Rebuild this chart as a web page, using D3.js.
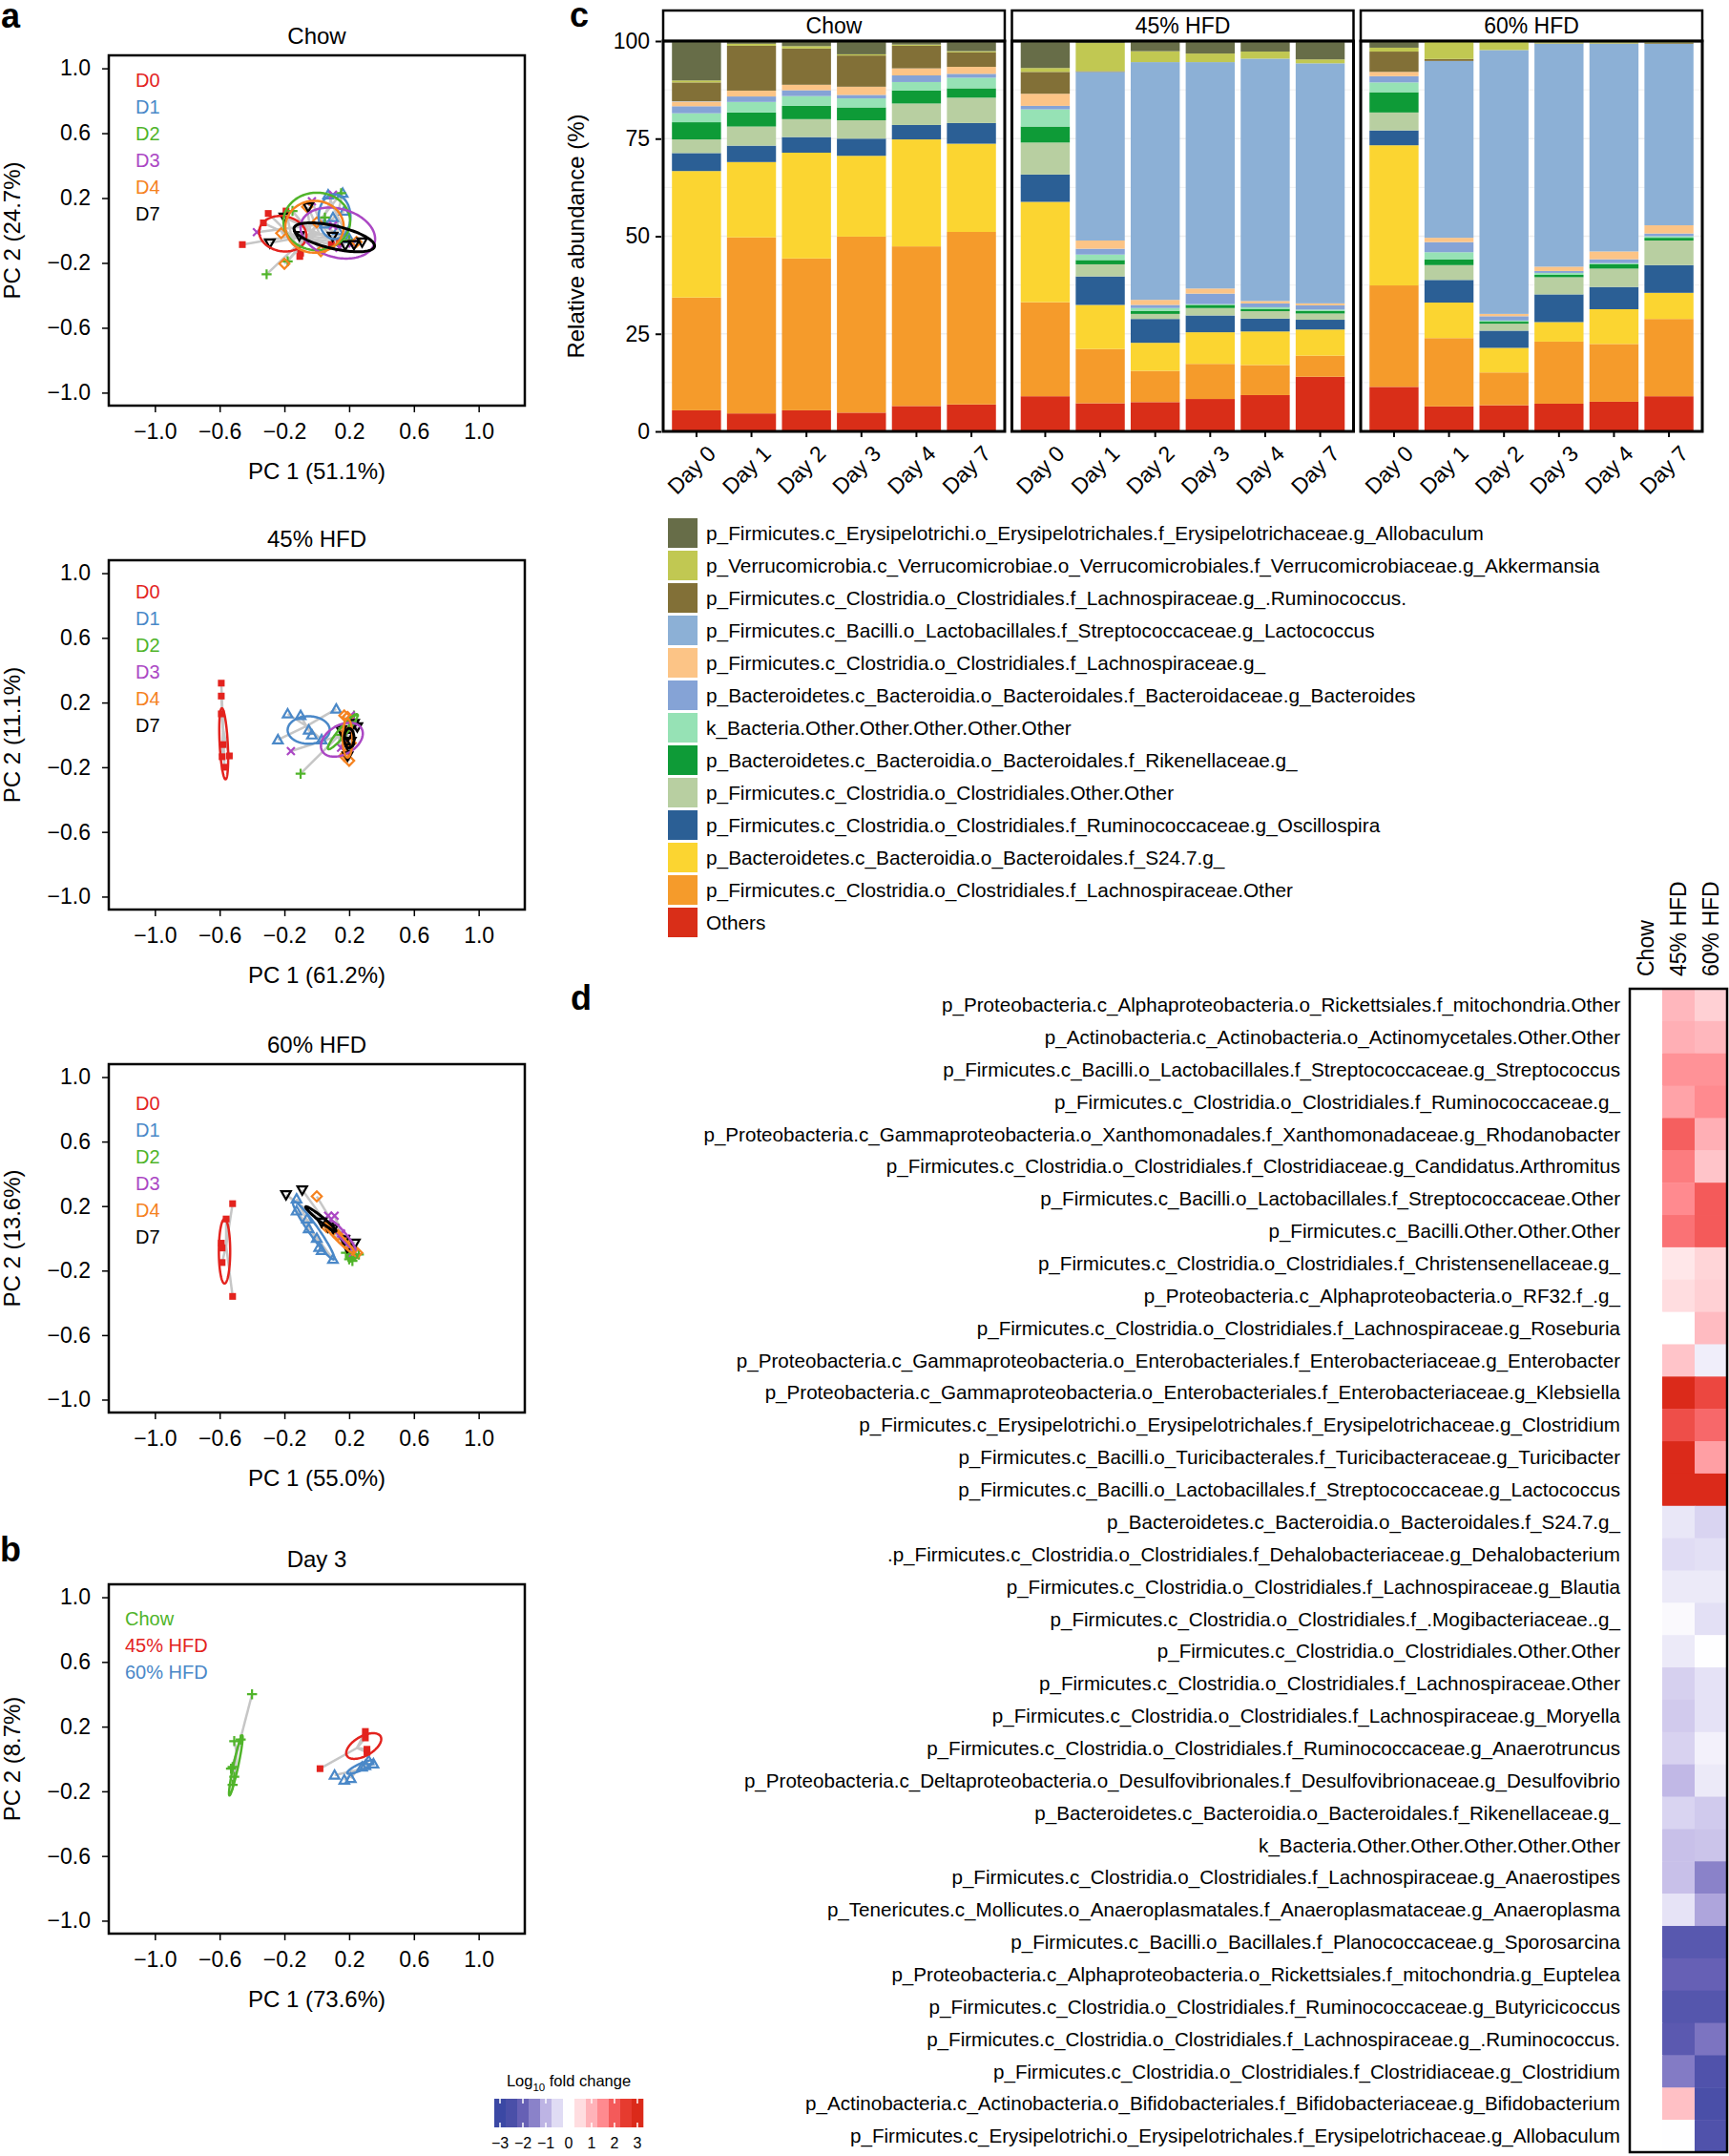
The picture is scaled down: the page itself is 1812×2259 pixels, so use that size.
<!DOCTYPE html>
<html>
<head>
<meta charset="utf-8">
<script src="https://cdn.jsdelivr.net/npm/d3@7"></script>
<style>
  body { margin: 0; background: #fff; }
  svg text { font-family: "Liberation Sans", Arial, Helvetica, sans-serif; }
</style>
</head>
<body>
<svg id="fig"></svg>
<script>
// ---------- data ----------
var dayGroups = ["D0", "D1", "D2", "D3", "D4", "D7"];
var dietGroups = ["Chow", "45% HFD", "60% HFD"];
var pcTicks = [-1.0, -0.6, -0.2, 0.2, 0.6, 1.0];

// PCoA points: [group, PC1, PC2]
var chowPoints = [
  ["D0", -0.46, -0.087], ["D0", -0.30, 0.105], ["D0", -0.33, 0.047], ["D0", -0.19, 0.12],
  ["D0", -0.10, -0.14], ["D0", -0.105, -0.16], ["D0", 0.09, -0.087], ["D0", 0.14, -0.075],
  ["D1", 0.07, 0.22], ["D1", 0.16, 0.23], ["D1", 0.13, 0.0], ["D1", 0.10, 0.08], ["D1", 0.20, -0.05], ["D1", 0.05, 0.04], ["D1", 0.17, 0.12],
  ["D2", -0.31, -0.27], ["D2", -0.15, 0.12], ["D2", 0.15, 0.23], ["D2", -0.18, -0.19], ["D2", 0.20, -0.06], ["D2", 0.05, 0.08],
  ["D3", -0.37, -0.01], ["D3", -0.03, 0.18], ["D3", 0.10, 0.22], ["D3", 0.14, -0.107], ["D3", 0.22, -0.08], ["D3", 0.10, 0.03],
  ["D4", -0.22, -0.016], ["D4", -0.20, -0.205], ["D4", -0.06, 0.145], ["D4", 0.025, -0.127], ["D4", 0.245, -0.071], ["D4", 0.0, 0.05],
  ["D7", -0.20, 0.082], ["D7", -0.29, -0.077], ["D7", -0.053, 0.145], ["D7", -0.108, -0.032], ["D7", 0.176, -0.091], ["D7", 0.23, -0.087], ["D7", 0.28, -0.071], ["D7", 0.098, -0.036]
];
var hfd45Points = [
  ["D0", -0.59, 0.32], ["D0", -0.59, 0.24], ["D0", -0.59, 0.13], ["D0", -0.585, -0.135], ["D0", -0.54, -0.13], ["D0", -0.57, -0.20], ["D0", -0.58, -0.06],
  ["D1", -0.24, -0.03], ["D1", -0.18, 0.13], ["D1", -0.10, 0.12], ["D1", -0.05, 0.03], ["D1", -0.03, 0.0], ["D1", 0.03, -0.03], ["D1", 0.12, 0.16],
  ["D2", -0.10, -0.24], ["D2", 0.23, 0.12], ["D2", 0.17, 0.05], ["D2", 0.20, 0.08], ["D2", 0.15, 0.0], ["D2", 0.18, -0.02],
  ["D3", -0.16, -0.10], ["D3", 0.21, 0.12], ["D3", 0.17, -0.05], ["D3", 0.20, 0.02], ["D3", 0.23, 0.05], ["D3", 0.15, -0.08],
  ["D4", 0.17, 0.12], ["D4", 0.19, 0.11], ["D4", 0.20, -0.16], ["D4", 0.18, -0.12], ["D4", 0.17, 0.03], ["D4", 0.21, -0.05], ["D4", 0.17, -0.13],
  ["D7", 0.15, 0.03], ["D7", 0.23, 0.07], ["D7", 0.25, 0.05], ["D7", 0.19, -0.01], ["D7", 0.20, -0.08], ["D7", 0.19, -0.13], ["D7", 0.21, -0.04]
];
var hfd60Points = [
  ["D0", -0.52, 0.215], ["D0", -0.56, 0.12], ["D0", -0.59, -0.03], ["D0", -0.585, -0.15], ["D0", -0.52, -0.36], ["D0", -0.585, -0.06],
  ["D1", -0.125, 0.245], ["D1", -0.125, 0.17], ["D1", -0.06, 0.12], ["D1", -0.05, 0.06], ["D1", 0.0, 0.0], ["D1", 0.015, -0.055], ["D1", 0.10, -0.13], ["D1", 0.03, -0.075],
  ["D2", 0.21, -0.12], ["D2", 0.22, -0.14], ["D2", 0.18, -0.09], ["D2", 0.26, -0.10], ["D2", 0.23, -0.11], ["D2", 0.20, -0.13],
  ["D3", 0.07, 0.14], ["D3", 0.11, 0.14], ["D3", 0.20, -0.05], ["D3", 0.22, -0.09], ["D3", 0.15, 0.03], ["D3", 0.18, 0.0],
  ["D4", 0.0, 0.26], ["D4", 0.06, 0.07], ["D4", 0.13, 0.02], ["D4", 0.25, -0.09], ["D4", 0.18, -0.03], ["D4", 0.22, -0.07],
  ["D7", -0.19, 0.27], ["D7", -0.09, 0.30], ["D7", 0.03, 0.10], ["D7", 0.07, 0.07], ["D7", 0.17, -0.01], ["D7", 0.19, -0.06], ["D7", 0.235, -0.03], ["D7", 0.10, 0.06]
];
var day3Points = [
  ["Chow", -0.40, 0.40], ["Chow", -0.51, 0.11], ["Chow", -0.47, 0.12], ["Chow", -0.52, -0.05], ["Chow", -0.51, -0.11], ["Chow", -0.52, -0.16], ["Chow", -0.53, -0.06],
  ["45% HFD", 0.02, -0.06], ["45% HFD", 0.30, 0.17], ["45% HFD", 0.30, 0.13], ["45% HFD", 0.31, 0.04], ["45% HFD", 0.31, 0.06],
  ["60% HFD", 0.11, -0.10], ["60% HFD", 0.17, -0.13], ["60% HFD", 0.21, -0.12], ["60% HFD", 0.28, -0.05], ["60% HFD", 0.32, -0.01], ["60% HFD", 0.35, -0.03], ["60% HFD", 0.30, -0.04]
];

// group ellipses: [group, centre PC1, centre PC2, semi-axis a, semi-axis b, angle deg]
var chowEllipses = [
  ["D0", -0.21, -0.02, 0.147, 0.108, -10], ["D1", 0.11, 0.085, 0.098, 0.138, 0],
  ["D2", 0.0, 0.056, 0.206, 0.177, 0], ["D3", 0.13, -0.016, 0.235, 0.15, -15],
  ["D4", -0.014, 0.023, 0.18, 0.16, 0], ["D7", 0.108, -0.042, 0.255, 0.07, -13]
];
var hfd45Ellipses = [
  ["D0", -0.575, -0.055, 0.22, 0.025, 93], ["D1", -0.05, 0.03, 0.13, 0.085, 0],
  ["D2", 0.16, 0.02, 0.14, 0.025, 50], ["D3", 0.155, -0.03, 0.14, 0.09, 30],
  ["D4", 0.19, -0.02, 0.12, 0.03, 90], ["D7", 0.20, -0.02, 0.06, 0.03, 90]
];
var hfd60Ellipses = [
  ["D0", -0.57, -0.08, 0.2, 0.035, 90], ["D1", -0.02, 0.05, 0.22, 0.03, -55],
  ["D2", 0.22, -0.11, 0.03, 0.02, 0], ["D3", 0.16, 0.02, 0.12, 0.02, -50],
  ["D4", 0.14, 0.0, 0.13, 0.02, -45], ["D7", 0.025, 0.12, 0.12, 0.015, -39]
];
var day3Ellipses = [
  ["Chow", -0.50, -0.04, 0.19, 0.015, 78], ["45% HFD", 0.29, 0.08, 0.12, 0.06, 30],
  ["60% HFD", 0.27, -0.05, 0.09, 0.02, 25]
];

// stacked bars (relative abundance %), 18 bars: Chow D0..D7, 45% D0..D7, 60% D0..D7
var dayLabels = ["Day 0", "Day 1", "Day 2", "Day 3", "Day 4", "Day 7"];
var taxa = [
  "Others",
  "p_Firmicutes.c_Clostridia.o_Clostridiales.f_Lachnospiraceae.Other",
  "p_Bacteroidetes.c_Bacteroidia.o_Bacteroidales.f_S24.7.g_",
  "p_Firmicutes.c_Clostridia.o_Clostridiales.f_Ruminococcaceae.g_Oscillospira",
  "p_Firmicutes.c_Clostridia.o_Clostridiales.Other.Other",
  "p_Bacteroidetes.c_Bacteroidia.o_Bacteroidales.f_Rikenellaceae.g_",
  "k_Bacteria.Other.Other.Other.Other.Other",
  "p_Bacteroidetes.c_Bacteroidia.o_Bacteroidales.f_Bacteroidaceae.g_Bacteroides",
  "p_Firmicutes.c_Clostridia.o_Clostridiales.f_Lachnospiraceae.g_",
  "p_Firmicutes.c_Bacilli.o_Lactobacillales.f_Streptococcaceae.g_Lactococcus",
  "p_Firmicutes.c_Clostridia.o_Clostridiales.f_Lachnospiraceae.g_.Ruminococcus.",
  "p_Verrucomicrobia.c_Verrucomicrobiae.o_Verrucomicrobiales.f_Verrucomicrobiaceae.g_Akkermansia",
  "p_Firmicutes.c_Erysipelotrichi.o_Erysipelotrichales.f_Erysipelotrichaceae.g_Allobaculum"
];
var taxaColors = ["#D92E18", "#F59B2B", "#FBD531", "#2B5F95", "#B8CFA1", "#0E9B37", "#96E2B5",
                  "#85A3D6", "#FCC486", "#8CB0D6", "#827037", "#C1C852", "#676D48"];
var others       = [5.4, 4.6, 5.4, 4.8, 6.5, 6.9,  9.0, 7.2, 7.5, 8.3, 9.3, 14.0,  11.4, 6.4, 6.7, 7.1, 7.6, 9.0];
var lachnoOther  = [28.9, 45.1, 38.9, 45.1, 40.9, 44.2,  24.1, 13.9, 8.0, 9.0, 7.7, 5.4,  26.0, 17.5, 8.4, 15.9, 14.8, 19.8];
var s247         = [32.4, 19.3, 27.1, 20.7, 27.4, 22.6,  25.7, 11.3, 7.2, 8.1, 8.6, 6.7,  35.9, 9.1, 6.3, 5.0, 8.9, 6.7];
var oscillospira = [4.6, 4.2, 4.0, 4.4, 3.7, 5.3,  7.0, 7.3, 6.1, 4.3, 3.3, 2.5,  3.8, 5.8, 4.4, 7.1, 5.7, 7.1];
var clostOther   = [3.5, 4.9, 4.6, 4.7, 5.5, 6.5,  8.2, 3.1, 1.3, 1.9, 1.9, 1.6,  4.6, 3.8, 1.8, 4.4, 4.7, 6.3];
var rikenella    = [4.4, 3.6, 3.4, 3.3, 3.3, 2.4,  4.1, 1.1, 0.8, 0.8, 0.6, 0.7,  5.2, 1.5, 0.5, 0.6, 1.1, 0.7];
var kBacteria    = [2.3, 2.7, 2.5, 2.3, 2.2, 2.7,  4.4, 1.4, 0.7, 0.2, 0.4, 0.3,  2.5, 1.8, 0.3, 0.5, 0.3, 0.4];
var bacteroides  = [1.8, 1.4, 1.5, 0.9, 1.7, 1.0,  0.9, 1.5, 0.8, 2.7, 1.0, 1.1,  1.6, 2.6, 1.1, 0.5, 1.0, 0.7];
var lachnoG      = [1.2, 1.5, 1.4, 2.1, 1.8, 1.8,  3.1, 2.1, 1.3, 1.3, 0.6, 0.5,  1.1, 1.1, 0.6, 1.1, 2.0, 2.1];
var lactococcus  = [0.1, 0.0, 0.0, 0.0, 0.0, 0.0,  0.0, 43.2, 60.9, 58.0, 62.1, 61.5,  0.0, 45.3, 67.6, 57.1, 53.2, 46.5];
var ruminococcus = [4.8, 11.5, 9.3, 8.0, 5.8, 3.7,  5.6, 0.2, 0.0, 0.0, 0.0, 0.0,  5.2, 0.5, 0.0, 0.1, 0.1, 0.2];
var akkermansia  = [0.5, 0.5, 0.6, 0.3, 0.3, 0.3,  1.0, 7.2, 2.8, 2.2, 1.8, 1.0,  1.0, 4.4, 2.1, 0.3, 0.3, 0.2];
var allobaculum  = [10.1, 0.7, 1.3, 3.4, 0.9, 2.6,  6.9, 0.5, 2.6, 3.2, 2.7, 4.7,  1.7, 0.2, 0.2, 0.3, 0.3, 0.3];
var taxaSeries = [others, lachnoOther, s247, oscillospira, clostOther, rikenella, kBacteria,
                  bacteroides, lachnoG, lactococcus, ruminococcus, akkermansia, allobaculum];

// heatmap: log10 fold change vs chow
var heatTaxa = [
  "p_Proteobacteria.c_Alphaproteobacteria.o_Rickettsiales.f_mitochondria.Other",
  "p_Actinobacteria.c_Actinobacteria.o_Actinomycetales.Other.Other",
  "p_Firmicutes.c_Bacilli.o_Lactobacillales.f_Streptococcaceae.g_Streptococcus",
  "p_Firmicutes.c_Clostridia.o_Clostridiales.f_Ruminococcaceae.g_",
  "p_Proteobacteria.c_Gammaproteobacteria.o_Xanthomonadales.f_Xanthomonadaceae.g_Rhodanobacter",
  "p_Firmicutes.c_Clostridia.o_Clostridiales.f_Clostridiaceae.g_Candidatus.Arthromitus",
  "p_Firmicutes.c_Bacilli.o_Lactobacillales.f_Streptococcaceae.Other",
  "p_Firmicutes.c_Bacilli.Other.Other.Other",
  "p_Firmicutes.c_Clostridia.o_Clostridiales.f_Christensenellaceae.g_",
  "p_Proteobacteria.c_Alphaproteobacteria.o_RF32.f_.g_",
  "p_Firmicutes.c_Clostridia.o_Clostridiales.f_Lachnospiraceae.g_Roseburia",
  "p_Proteobacteria.c_Gammaproteobacteria.o_Enterobacteriales.f_Enterobacteriaceae.g_Enterobacter",
  "p_Proteobacteria.c_Gammaproteobacteria.o_Enterobacteriales.f_Enterobacteriaceae.g_Klebsiella",
  "p_Firmicutes.c_Erysipelotrichi.o_Erysipelotrichales.f_Erysipelotrichaceae.g_Clostridium",
  "p_Firmicutes.c_Bacilli.o_Turicibacterales.f_Turicibacteraceae.g_Turicibacter",
  "p_Firmicutes.c_Bacilli.o_Lactobacillales.f_Streptococcaceae.g_Lactococcus",
  "p_Bacteroidetes.c_Bacteroidia.o_Bacteroidales.f_S24.7.g_",
  ".p_Firmicutes.c_Clostridia.o_Clostridiales.f_Dehalobacteriaceae.g_Dehalobacterium",
  "p_Firmicutes.c_Clostridia.o_Clostridiales.f_Lachnospiraceae.g_Blautia",
  "p_Firmicutes.c_Clostridia.o_Clostridiales.f_.Mogibacteriaceae..g_",
  "p_Firmicutes.c_Clostridia.o_Clostridiales.Other.Other",
  "p_Firmicutes.c_Clostridia.o_Clostridiales.f_Lachnospiraceae.Other",
  "p_Firmicutes.c_Clostridia.o_Clostridiales.f_Lachnospiraceae.g_Moryella",
  "p_Firmicutes.c_Clostridia.o_Clostridiales.f_Ruminococcaceae.g_Anaerotruncus",
  "p_Proteobacteria.c_Deltaproteobacteria.o_Desulfovibrionales.f_Desulfovibrionaceae.g_Desulfovibrio",
  "p_Bacteroidetes.c_Bacteroidia.o_Bacteroidales.f_Rikenellaceae.g_",
  "k_Bacteria.Other.Other.Other.Other.Other",
  "p_Firmicutes.c_Clostridia.o_Clostridiales.f_Lachnospiraceae.g_Anaerostipes",
  "p_Tenericutes.c_Mollicutes.o_Anaeroplasmatales.f_Anaeroplasmataceae.g_Anaeroplasma",
  "p_Firmicutes.c_Bacilli.o_Bacillales.f_Planococcaceae.g_Sporosarcina",
  "p_Proteobacteria.c_Alphaproteobacteria.o_Rickettsiales.f_mitochondria.g_Euptelea",
  "p_Firmicutes.c_Clostridia.o_Clostridiales.f_Ruminococcaceae.g_Butyricicoccus",
  "p_Firmicutes.c_Clostridia.o_Clostridiales.f_Lachnospiraceae.g_.Ruminococcus.",
  "p_Firmicutes.c_Clostridia.o_Clostridiales.f_Clostridiaceae.g_Clostridium",
  "p_Actinobacteria.c_Actinobacteria.o_Bifidobacteriales.f_Bifidobacteriaceae.g_Bifidobacterium",
  "p_Firmicutes.c_Erysipelotrichi.o_Erysipelotrichales.f_Erysipelotrichaceae.g_Allobaculum"
];
var foldChow  = heatTaxa.map(function () { return 0; });
var fold45HFD = [0.95, 1.05, 1.4, 1.2, 1.95, 1.65, 1.5, 1.75, 0.35, 0.5, 0.0, 0.8, 3.0, 2.2, 3.0, 3.0,
                 -0.35, -0.5, -0.3, -0.08, -0.3, -0.65, -0.72, -0.62, -0.95, -0.6, -0.85, -0.85, -0.4,
                 -2.25, -2.0, -2.3, -2.2, -1.6, 0.85, -0.02];
var fold60HFD = [0.65, 0.95, 1.4, 1.5, 1.05, 0.8, 2.0, 2.0, 0.6, 0.65, 0.9, -0.25, 2.3, 1.85, 1.25, 3.0,
                 -0.6, -0.45, -0.3, -0.45, -0.02, -0.42, -0.42, -0.2, -0.3, -0.73, -0.8, -1.5, -1.15,
                 -2.25, -2.0, -2.3, -1.7, -2.4, -2.5, -2.4];
var foldTicks = [-3, -2, -1, 0, 1, 2, 3];

// ---------- setup ----------
var svg = d3.select("#fig").attr("width", 1812).attr("height", 2259);
var red = "#E3231E", blue = "#4A88C8", green = "#50B42A", purple = "#AB47C4", orange = "#F5821F", black = "#000";

// simple line symbols for the ordination plots
var symPlus = { draw: function (c, s) { var r = Math.sqrt(s) / 2; c.moveTo(-r, 0); c.lineTo(r, 0); c.moveTo(0, -r); c.lineTo(0, r); } };
var symX = { draw: function (c, s) { var r = Math.sqrt(s) / 2.6; c.moveTo(-r, -r); c.lineTo(r, r); c.moveTo(-r, r); c.lineTo(r, -r); } };
var symUp = { draw: function (c, s) { var r = Math.sqrt(s) / 2; c.moveTo(0, -r); c.lineTo(r, r * 0.75); c.lineTo(-r, r * 0.75); c.closePath(); } };
var symDown = { draw: function (c, s) { var r = Math.sqrt(s) / 2; c.moveTo(-r, -r * 0.75); c.lineTo(r, -r * 0.75); c.lineTo(0, r); c.closePath(); } };
var symDiamond = { draw: function (c, s) { var r = Math.sqrt(s) / 2; c.moveTo(0, -r); c.lineTo(r, 0); c.lineTo(0, r); c.lineTo(-r, 0); c.closePath(); } };

var dayStyle = {
  D0: { color: red, type: d3.symbolSquare, size: 50, fill: true },
  D1: { color: blue, type: symUp, size: 100, fill: false },
  D2: { color: green, type: symPlus, size: 110, fill: false },
  D3: { color: purple, type: symX, size: 110, fill: false },
  D4: { color: orange, type: symDiamond, size: 110, fill: false },
  D7: { color: black, type: symDown, size: 100, fill: false }
};
var dietStyle = {
  "Chow": { color: green, type: symPlus, size: 110, fill: false },
  "45% HFD": { color: red, type: d3.symbolSquare, size: 50, fill: true },
  "60% HFD": { color: blue, type: symUp, size: 100, fill: false }
};

function panelLetter(txt, x, y) {
  svg.append("text").attr("x", x).attr("y", y).attr("font-size", 36).attr("font-weight", "bold").text(txt);
}

// ---------- a / b : PCoA panels ----------
function pcaPanel(opt) {
  var x = d3.scaleLinear().domain([-1.285, 1.285]).range([114, 550]);
  var y = d3.scaleLinear().domain([-1.08, 1.08]).range([opt.bottom, opt.top]);
  var g = svg.append("g");
  var fmt = d3.format(".1f");

  g.append("text").attr("x", 332).attr("y", opt.titleY).attr("dy", "0.36em").attr("text-anchor", "middle")
    .attr("font-size", 24).text(opt.title);

  var xAxis = g.append("g").attr("transform", "translate(0," + opt.bottom + ")")
    .call(d3.axisBottom(x).tickValues(pcTicks).tickFormat(fmt).tickSize(7).tickPadding(12));
  var yAxis = g.append("g").attr("transform", "translate(114,0)")
    .call(d3.axisLeft(y).tickValues(pcTicks).tickFormat(fmt).tickSize(7).tickPadding(12));
  [xAxis, yAxis].forEach(function (a) {
    a.select(".domain").remove();
    a.attr("font-family", null).attr("font-size", 23);
    a.selectAll("line").attr("stroke-width", 1.5);
  });

  g.append("text").attr("x", 332).attr("y", opt.bottom + 77).attr("text-anchor", "middle")
    .attr("font-size", 24).text(opt.xlab);
  g.append("text").attr("transform", "translate(21," + ((opt.top + opt.bottom) / 2) + ") rotate(-90)")
    .attr("text-anchor", "middle").attr("font-size", 24).text(opt.ylab);

  // spider lines to group centroids
  var cent = d3.rollup(opt.points, function (v) {
    return [d3.mean(v, function (d) { return d[1]; }), d3.mean(v, function (d) { return d[2]; })];
  }, function (d) { return d[0]; });
  g.selectAll("line.spider").data(opt.points).join("line")
    .attr("x1", function (d) { return x(d[1]); }).attr("y1", function (d) { return y(d[2]); })
    .attr("x2", function (d) { return x(cent.get(d[0])[0]); }).attr("y2", function (d) { return y(cent.get(d[0])[1]); })
    .attr("stroke", "#C6C6C6").attr("stroke-width", 2.5);

  // points
  g.selectAll("path.pt").data(opt.points).join("path")
    .attr("transform", function (d) { return "translate(" + x(d[1]) + "," + y(d[2]) + ")"; })
    .attr("d", function (d) { var s = opt.style[d[0]]; return d3.symbol(s.type, s.size)(); })
    .attr("fill", function (d) { var s = opt.style[d[0]]; return s.fill ? s.color : "none"; })
    .attr("stroke", function (d) { return opt.style[d[0]].color; })
    .attr("stroke-width", function (d) { return opt.style[d[0]].fill ? 0 : 2.2; });

  // ellipses
  var line = d3.line();
  g.selectAll("path.ell").data(opt.ellipses).join("path")
    .attr("d", function (e) {
      var t = e[5] * Math.PI / 180;
      var pts = d3.range(0, 2 * Math.PI + 0.001, Math.PI / 60).map(function (p) {
        var ex = e[3] * Math.cos(p), ey = e[4] * Math.sin(p);
        return [x(e[1] + ex * Math.cos(t) - ey * Math.sin(t)), y(e[2] + ex * Math.sin(t) + ey * Math.cos(t))];
      });
      return line(pts) + "Z";
    })
    .attr("fill", "none").attr("stroke", function (e) { return opt.style[e[0]].color; })
    .attr("stroke-width", function (e) { return opt.style[e[0]].color === black ? 3 : 2.5; });

  // legend (coloured text only)
  g.selectAll("text.leg").data(opt.groups).join("text")
    .attr("x", opt.legX).attr("y", function (d, i) { return opt.legTop + i * 28; })
    .attr("dy", "0.36em").attr("font-size", 20)
    .attr("fill", function (d) { return opt.style[d].color; }).text(function (d) { return d; });

  g.append("rect").attr("x", 114).attr("y", opt.top).attr("width", 436).attr("height", opt.bottom - opt.top)
    .attr("fill", "none").attr("stroke", "#000").attr("stroke-width", 2.5);
}

pcaPanel({ top: 58, bottom: 425, titleY: 37, title: "Chow", xlab: "PC 1 (51.1%)", ylab: "PC 2 (24.7%)",
  points: chowPoints, ellipses: chowEllipses, groups: dayGroups, style: dayStyle, legX: 142, legTop: 84 });
pcaPanel({ top: 587, bottom: 953, titleY: 564, title: "45% HFD", xlab: "PC 1 (61.2%)", ylab: "PC 2 (11.1%)",
  points: hfd45Points, ellipses: hfd45Ellipses, groups: dayGroups, style: dayStyle, legX: 142, legTop: 620 });
pcaPanel({ top: 1115, bottom: 1480, titleY: 1094, title: "60% HFD", xlab: "PC 1 (55.0%)", ylab: "PC 2 (13.6%)",
  points: hfd60Points, ellipses: hfd60Ellipses, groups: dayGroups, style: dayStyle, legX: 142, legTop: 1156 });
pcaPanel({ top: 1660, bottom: 2026, titleY: 1633, title: "Day 3", xlab: "PC 1 (73.6%)", ylab: "PC 2 (8.7%)",
  points: day3Points, ellipses: day3Ellipses, groups: dietGroups, style: dietStyle, legX: 131, legTop: 1696 });

panelLetter("a", 1, 29);
panelLetter("b", 0, 1636);

// ---------- c : stacked bars ----------
var barRows = [];
dietGroups.forEach(function (diet, fi) {
  dayLabels.forEach(function (day, di) {
    var row = { diet: diet, day: day };
    taxa.forEach(function (t, ti) { row[t] = taxaSeries[ti][fi * 6 + di]; });
    barRows.push(row);
  });
});
var stacked = d3.stack().keys(taxa)(barRows);

var facetX = d3.scaleBand().domain(dietGroups).range([695, 1784]).paddingInner(0.0206);
var dayX = d3.scaleBand().domain(dayLabels).range([0, facetX.bandwidth()]).paddingInner(0.108).paddingOuter(0.16);
var yAb = d3.scaleLinear().domain([0, 100]).range([452, 43]);
var gc = svg.append("g");

dietGroups.forEach(function (diet) {
  var fx = facetX(diet), fw = facetX.bandwidth();
  // faint grid
  gc.selectAll(null).data(d3.range(0, 101, 12.5)).join("line")
    .attr("x1", fx).attr("x2", fx + fw).attr("y1", function (d) { return yAb(d); }).attr("y2", function (d) { return yAb(d); })
    .attr("stroke", "#EFEFEF").attr("stroke-width", function (d) { return d % 25 === 0 ? 1.6 : 0.9; });
  // strip
  gc.append("rect").attr("x", fx).attr("y", 11).attr("width", fw).attr("height", 32)
    .attr("fill", "#fff").attr("stroke", "#000").attr("stroke-width", 2.5);
  gc.append("text").attr("x", fx + fw / 2).attr("y", 27).attr("dy", "0.36em").attr("text-anchor", "middle")
    .attr("font-size", 23).text(diet);
  // x axis
  var ax = gc.append("g").attr("transform", "translate(" + fx + "," + yAb(0) + ")")
    .call(d3.axisBottom(dayX).tickSize(6).tickFormat(""));
  ax.select(".domain").remove();
  ax.selectAll("line").attr("stroke-width", 2);
  gc.selectAll(null).data(dayLabels).join("text")
    .attr("transform", function (d) { return "translate(" + (fx + dayX(d) + dayX.bandwidth() / 2 + 10) + ",465) rotate(-45)"; })
    .attr("text-anchor", "end").attr("dy", "0.72em").attr("font-size", 23).text(function (d) { return d; });
});

stacked.forEach(function (layer, li) {
  gc.append("g").attr("fill", taxaColors[li]).selectAll("rect").data(layer).join("rect")
    .attr("x", function (d) { return facetX(d.data.diet) + dayX(d.data.day); })
    .attr("width", dayX.bandwidth())
    .attr("y", function (d) { return yAb(d[1]); })
    .attr("height", function (d) { return Math.max(0, yAb(d[0]) - yAb(d[1])); });
});

dietGroups.forEach(function (diet) {
  gc.append("rect").attr("x", facetX(diet)).attr("y", yAb(100)).attr("width", facetX.bandwidth())
    .attr("height", yAb(0) - yAb(100)).attr("fill", "none").attr("stroke", "#000").attr("stroke-width", 3);
});

var yAx = gc.append("g").attr("transform", "translate(693,0)")
  .call(d3.axisLeft(yAb).tickValues([0, 25, 50, 75, 100]).tickSize(6).tickPadding(6));
yAx.select(".domain").remove();
yAx.attr("font-family", null).attr("font-size", 23);
yAx.selectAll("line").attr("stroke-width", 2);
gc.append("text").attr("transform", "translate(612," + ((yAb(0) + yAb(100)) / 2) + ") rotate(-90)")
  .attr("text-anchor", "middle").attr("font-size", 24).text("Relative abundance (%)");
panelLetter("c", 597, 28);

// legend for c (top of stack first)
var legOrder = d3.range(taxa.length).reverse();
var gl = svg.append("g");
gl.selectAll("rect").data(legOrder).join("rect")
  .attr("x", 700).attr("y", function (d, i) { return 543 + i * 34; }).attr("width", 31).attr("height", 31)
  .attr("fill", function (d) { return taxaColors[d]; });
gl.selectAll("text").data(legOrder).join("text")
  .attr("x", 740).attr("y", function (d, i) { return 558.5 + i * 34; }).attr("dy", "0.35em")
  .attr("font-size", 20.8).text(function (d) { return taxa[d]; });

// ---------- d : heatmap ----------
var heatColor = d3.scaleLinear()
  .domain([-3, -2.5, -2, -1.5, -1, -0.5, 0, 0.5, 1, 1.5, 2, 2.5, 3])
  .range(["#3B48A4", "#4A4FA8", "#6660B5", "#8A82C9", "#BDB4E4", "#E0DCF4", "#FFFFFF",
          "#FFDDE0", "#FFB3B9", "#FF8A8F", "#F45A5A", "#E63B2F", "#DB2A1A"])
  .clamp(true);
var colX = d3.scaleBand().domain(dietGroups).range([1708, 1810]);
var rowY = d3.scaleBand().domain(heatTaxa).range([1036, 2255]);
var foldSeries = [foldChow, fold45HFD, fold60HFD];
var cells = [];
heatTaxa.forEach(function (t, ri) {
  dietGroups.forEach(function (diet, ci) { cells.push({ taxon: t, diet: diet, v: foldSeries[ci][ri] }); });
});
var gd = svg.append("g");
gd.selectAll("rect.cell").data(cells).join("rect")
  .attr("x", function (d) { return colX(d.diet); }).attr("y", function (d) { return rowY(d.taxon); })
  .attr("width", colX.bandwidth() + 0.5).attr("height", rowY.bandwidth() + 0.5)
  .attr("fill", function (d) { return heatColor(d.v); });
gd.append("rect").attr("x", 1708).attr("y", 1036).attr("width", 102).attr("height", 1219)
  .attr("fill", "none").attr("stroke", "#000").attr("stroke-width", 2.5);
gd.selectAll("text.row").data(heatTaxa).join("text")
  .attr("x", 1698).attr("y", function (d) { return rowY(d) + rowY.bandwidth() / 2; }).attr("dy", "0.35em")
  .attr("text-anchor", "end").attr("font-size", 20.6).text(function (d) { return d; });
gd.selectAll("text.col").data(dietGroups).join("text")
  .attr("transform", function (d) { return "translate(" + (colX(d) + colX.bandwidth() / 2) + ",1023) rotate(-90)"; })
  .attr("dy", "0.36em").attr("font-size", 23).text(function (d) { return d; });
panelLetter("d", 598, 1058);

// colour key
var keyX = d3.scaleLinear().domain([-3, 3]).range([524, 668]);
var gk = svg.append("g");
var keySteps = d3.range(-3, 3.01, 0.5);
gk.selectAll("rect").data(keySteps).join("rect")
  .attr("x", function (d) { return keyX(d - 0.25); }).attr("y", 2199)
  .attr("width", keyX(0.5) - keyX(0) + 0.3).attr("height", 30)
  .attr("fill", function (d) { return heatColor(d); });
gk.selectAll("line.t1").data(foldTicks).join("line")
  .attr("x1", function (d) { return keyX(d); }).attr("x2", function (d) { return keyX(d); })
  .attr("y1", 2199).attr("y2", 2204).attr("stroke", "#fff").attr("stroke-width", 1.5);
gk.selectAll("line.t2").data(foldTicks).join("line")
  .attr("x1", function (d) { return keyX(d); }).attr("x2", function (d) { return keyX(d); })
  .attr("y1", 2224).attr("y2", 2229).attr("stroke", "#fff").attr("stroke-width", 1.5);
gk.selectAll("text.kt").data(foldTicks).join("text")
  .attr("x", function (d) { return keyX(d); }).attr("y", 2245).attr("dy", "0.36em")
  .attr("text-anchor", "middle").attr("font-size", 16).text(function (d) { return d3.format("d")(d); });
var kt = gk.append("text").attr("x", 596).attr("y", 2186).attr("text-anchor", "middle").attr("font-size", 16.5);
kt.append("tspan").text("Log");
kt.append("tspan").attr("font-size", 11.5).attr("dy", 5).text("10");
kt.append("tspan").attr("dy", -5).text(" fold change");
</script>
</body>
</html>
